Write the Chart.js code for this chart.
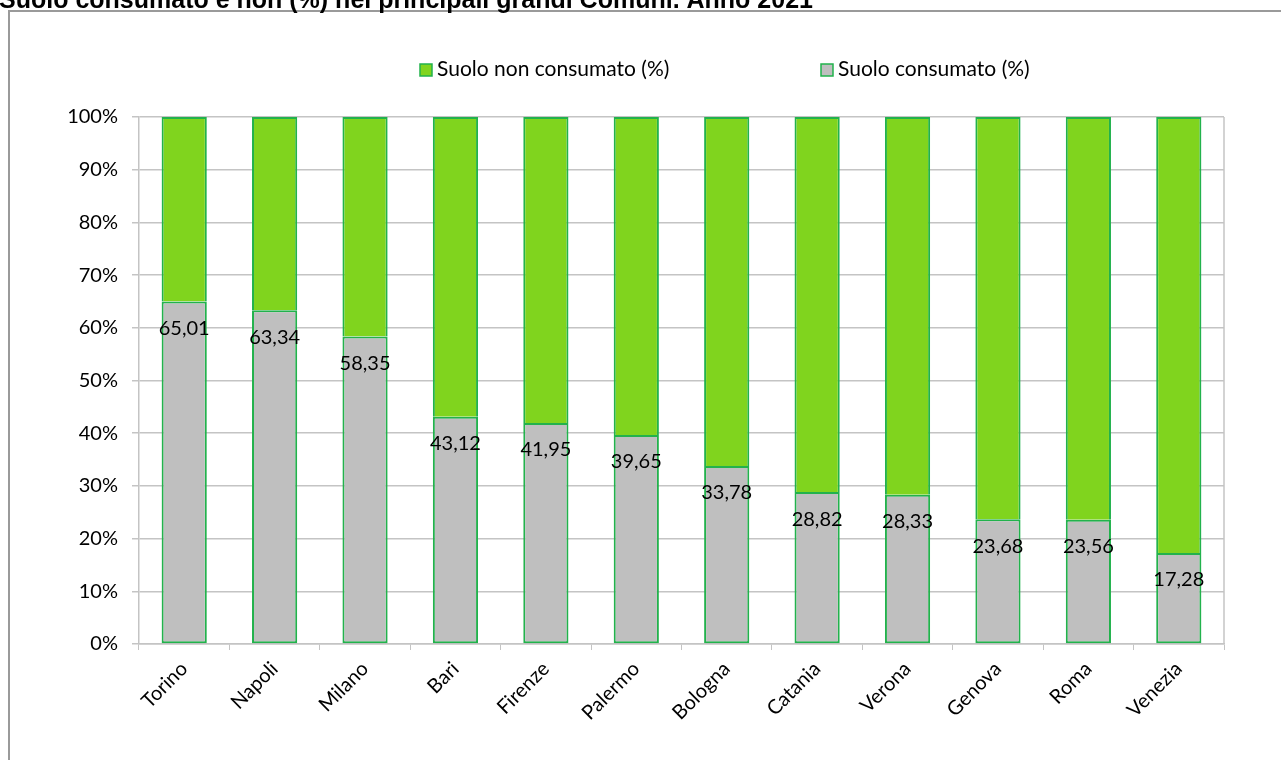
<!DOCTYPE html>
<html>
<head>
<meta charset="utf-8">
<script src="https://cdn.jsdelivr.net/npm/chart.js@4/dist/chart.umd.min.js"></script>
<style>
  html, body { margin: 0; padding: 0; background: #fff; }
  #wrap { width: 1281px; height: 760px; position: relative; }
</style>
</head>
<body>
<div id="wrap"><canvas id="myChart" width="1281" height="760"></canvas></div>
<script>
const titleText = 'Suolo consumato e non (%) nei principali grandi Comuni. Anno 2021';
const cities = ['Torino', 'Napoli', 'Milano', 'Bari', 'Firenze', 'Palermo', 'Bologna', 'Catania', 'Verona', 'Genova', 'Roma', 'Venezia'];
const consumato = [65.01, 63.34, 58.35, 43.12, 41.95, 39.65, 33.78, 28.82, 28.33, 23.68, 23.56, 17.28];
const nonConsumato = [34.99, 36.66, 41.65, 56.88, 58.05, 60.35, 66.22, 71.18, 71.67, 76.32, 76.44, 82.72];
const yTicks = [0, 10, 20, 30, 40, 50, 60, 70, 80, 90, 100];

const FONT = 'Lato';
const gridGray = '#c4c4c4';

// frame, clipped title, legend, plot border and value labels
const extras = {
  id: 'extras',
  afterDraw(chart) {
    const ctx = chart.ctx;
    const area = chart.chartArea;
    ctx.save();
    // outer frame (only left and top edges visible)
    ctx.strokeStyle = '#9a9a9a';
    ctx.lineWidth = 2;
    ctx.beginPath();
    ctx.moveTo(9, 760);
    ctx.lineTo(9, 11);
    ctx.lineTo(1281, 11);
    ctx.stroke();

    // right edge of the plot area
    ctx.strokeStyle = gridGray;
    ctx.lineWidth = 1.5;
    ctx.beginPath();
    ctx.moveTo(area.right, area.top);
    ctx.lineTo(area.right, area.bottom);
    ctx.stroke();

    // title, cut at the top
    ctx.fillStyle = '#000';
    ctx.font = 'bold 25px "Liberation Sans", Arial, sans-serif';
    ctx.textBaseline = 'alphabetic';
    ctx.textAlign = 'left';
    ctx.fillText(titleText, -1, 8);

    // legend: reversed order like Excel
    const items = [chart.data.datasets[1], chart.data.datasets[0]];
    const xs = [420, 821];
    ctx.font = '21px ' + FONT;
    ctx.textBaseline = 'middle';
    items.forEach((ds, i) => {
      ctx.fillStyle = ds.backgroundColor;
      ctx.fillRect(xs[i], 64, 12, 12);
      ctx.strokeStyle = ds.borderColor;
      ctx.lineWidth = 1.5;
      ctx.strokeRect(xs[i], 64, 12, 12);
      ctx.fillStyle = '#000';
      ctx.fillText(ds.label, xs[i] + 17, 69);
    });

    // value labels inside the gray bars
    const meta = chart.getDatasetMeta(0);
    ctx.font = '20px ' + FONT;
    ctx.textAlign = 'center';
    ctx.textBaseline = 'middle';
    ctx.fillStyle = '#000';
    meta.data.forEach((bar, i) => {
      const txt = consumato[i].toFixed(2).replace('.', ',');
      ctx.fillText(txt, bar.x, bar.y + 27);
    });
    ctx.restore();
  }
};

const ctx = document.getElementById('myChart').getContext('2d');
const myChart = new Chart(ctx, {
  type: 'bar',
  data: {
    labels: cities,
    datasets: [{
      label: 'Suolo consumato (%)',
      data: consumato,
      backgroundColor: '#bfbfbf',
      borderColor: '#22b24c',
      borderWidth: 2,
      borderSkipped: false,
      categoryPercentage: 1,
      barPercentage: 0.5
    }, {
      label: 'Suolo non consumato (%)',
      data: nonConsumato,
      backgroundColor: '#80d41e',
      borderColor: '#22b24c',
      borderWidth: 2,
      borderSkipped: 'start',
      categoryPercentage: 1,
      barPercentage: 0.5
    }]
  },
  options: {
    responsive: false,
    animation: false,
    layout: { padding: { top: 117, right: 57, left: 0, bottom: 0 } },
    plugins: {
      legend: { display: false },
      title: { display: false },
      tooltip: { enabled: false }
    },
    scales: {
      x: {
        stacked: true,
        afterFit(scale) { scale.height = 116; },
        grid: { display: true, drawOnChartArea: false, drawTicks: true, tickLength: 6, color: gridGray, offset: true },
        border: { display: true, color: gridGray, width: 1.5 },
        ticks: {
          color: '#000',
          font: { family: FONT, size: 20 },
          maxRotation: 45,
          minRotation: 45,
          padding: 7
        }
      },
      y: {
        stacked: true,
        min: 0,
        max: 100,
        afterFit(scale) { scale.width = 139; },
        afterBuildTicks(scale) { scale.ticks = yTicks.map(v => ({ value: v })); },
        grid: { color: gridGray, lineWidth: 1.5, tickLength: 7 },
        border: { display: true, color: gridGray, width: 1.5 },
        ticks: {
          color: '#000',
          font: { family: FONT, size: 20 },
          padding: 14,
          callback: v => v + '%'
        }
      }
    }
  },
  plugins: [extras]
});
</script>
</body>
</html>
